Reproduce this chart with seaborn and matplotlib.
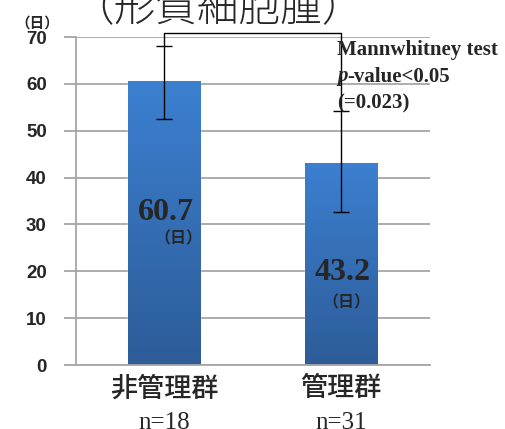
import numpy as np
import pandas as pd
import seaborn as sns
import matplotlib.pyplot as plt
import matplotlib.colors as mcolors

# data
groups = ['非管理群', '管理群']
n_labels = ['n=18', 'n=31']
means = [60.7, 43.2]
err_upper = [68.0, 54.2]
err_lower = [52.4, 32.6]
test_name = 'Mannwhitney test'
p_text = '-value<0.05'
p_exact = '(=0.023)'

df = pd.DataFrame({'group': groups, 'days': means})

sns.set_style('white')
plt.rcParams['font.family'] = ['Noto Sans CJK JP', 'DejaVu Sans']

W, H = 505, 429
fig = plt.figure(figsize=(W / 100, H / 100), dpi=100)
ax = fig.add_axes([76 / W, 1 - 365 / H, (430 - 76) / W, (365 - 37) / H])

def fx(px):
    return px / W

def fy(py):
    return 1 - py / H

sns.barplot(data=df, x='group', y='days', order=groups, width=0.41,
            color='#3471bb', ax=ax, zorder=2)

# vertical gradient inside each bar
cmap = mcolors.LinearSegmentedColormap.from_list('bar', ['#2d5c98', '#3c80d1'])
grad = np.linspace(0, 1, 256).reshape(-1, 1)
for p in ax.patches:
    b = p.get_bbox()
    im = ax.imshow(grad, cmap=cmap, origin='lower', aspect='auto',
                   extent=[b.x0, b.x1, b.y0, b.y1], zorder=2.5)
    im.set_clip_path(p)

# error bars
x = np.arange(len(groups))
m = np.array(means)
yerr = [m - np.array(err_lower), np.array(err_upper) - m]
ax.errorbar(x, m, yerr=yerr, fmt='none', ecolor='black', elinewidth=1,
            capsize=6, capthick=1, zorder=4)

ax.set_xlim(-0.497, 1.503)
ax.set_ylim(0, 70)
ax.set_yticks(range(0, 71, 10))
ax.yaxis.grid(True, color='#a6a6a6', linewidth=1.3, zorder=0)
ax.set_axisbelow(True)
for s in ['top', 'right']:
    ax.spines[s].set_visible(False)
for s in ['left', 'bottom']:
    ax.spines[s].set_color('#a6a6a6')
    ax.spines[s].set_linewidth(1.3)
ax.tick_params(axis='y', length=9, width=1.3, color='#a6a6a6', direction='out',
               pad=12, left=True)
ax.tick_params(axis='x', length=0)
for t in ax.get_yticklabels():
    t.set_fontfamily('Liberation Sans')
    t.set_fontweight('bold')
    t.set_fontsize(13.5)
ax.set_xticklabels([])
ax.set_xlabel('')
ax.set_ylabel('')

# significance bracket
top = 70.8
ax.plot([x[0], x[0], x[1], x[1]], [err_upper[0], top, top, err_upper[1]],
        color='black', linewidth=1, clip_on=False, zorder=5)

# value labels in the bars
serif = ['Liberation Serif', 'DejaVu Serif']
for i, v in enumerate(means):
    yv = v * 0.537 if i == 0 else v * 0.458
    ax.text(x[i] + 0.01, yv, f'{v}', ha='center', va='center', fontsize=23,
            fontweight='bold', family=serif, zorder=6)
    ax.text(x[i] + (0.08 if i == 0 else 0.03), yv - (5.6 if i == 0 else 6.4),
            '（日）', ha='center', va='center', fontsize=11.5, fontweight='bold',
            zorder=6)

# group labels and n
for i in range(len(groups)):
    xp = ax.transData.transform((x[i], 0))[0]
    fig.text(xp / W, fy(389), groups[i], ha='center',
             va='center', fontsize=19.5, fontweight='medium')
    fig.text(xp / W, fy(412), n_labels[i], ha='center',
             va='top', fontsize=18, family=serif)

# p-value note
fig.text(fx(337), fy(50), test_name, ha='left', va='center', fontsize=15,
         fontweight='bold', family=serif)
p_it = fig.text(fx(337), fy(76.5), 'p', ha='left', va='center', fontsize=15,
                fontweight='bold', fontstyle='italic', family=serif)
r = fig.canvas.get_renderer()
pw = p_it.get_window_extent(renderer=r).width
fig.text(fx(337 + pw), fy(76.5), p_text, ha='left', va='center', fontsize=15,
         fontweight='bold', family=serif)
fig.text(fx(337), fy(103), p_exact, ha='left', va='center', fontsize=15,
         fontweight='bold', family=serif)

fig.text(fx(37), fy(23), '（日）', ha='center', va='center', fontsize=10.5,
         fontweight='bold')
fig.text(fx(218), fy(31), '（形質細胞腫）', ha='center', va='bottom',
         fontsize=30, fontweight='light')

fig.savefig('out.png', dpi=100)
